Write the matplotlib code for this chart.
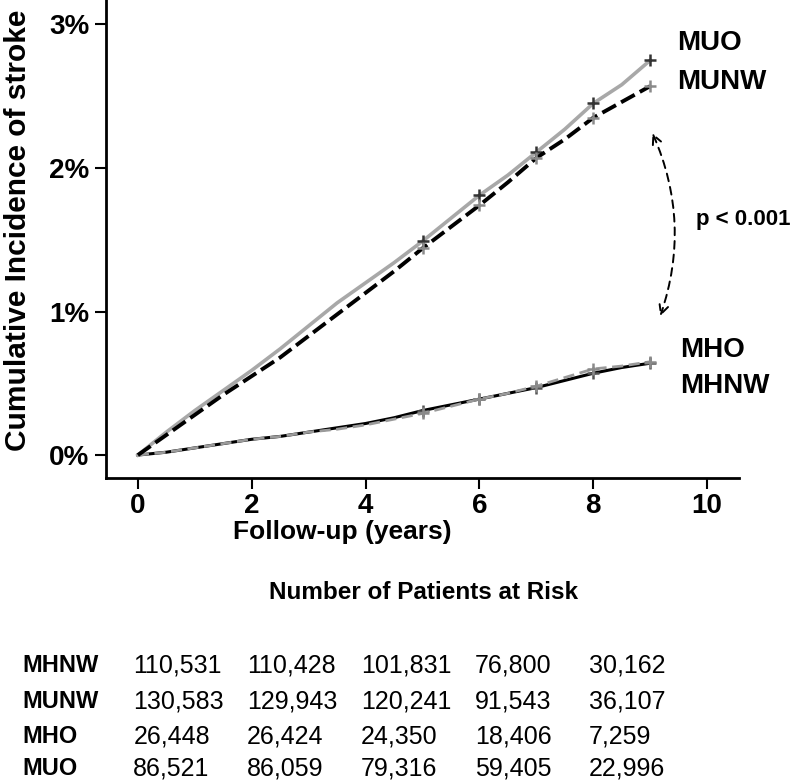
import numpy as np
import matplotlib.pyplot as plt
from matplotlib.ticker import FuncFormatter
import matplotlib.transforms as mtransforms

plt.rcParams['font.family'] = ['Liberation Sans', 'DejaVu Sans']

# follow-up time (years) and cumulative incidence (%)
years = [0, 0.5, 1, 1.5, 2, 2.5, 3, 3.5, 4, 4.5, 5, 5.5, 6, 6.5, 7, 7.5, 8, 8.5, 9]
muo = [0, 0.16, 0.31, 0.45, 0.59, 0.74, 0.90, 1.06, 1.20, 1.34, 1.49, 1.65, 1.81, 1.95, 2.11, 2.27, 2.45, 2.58, 2.75]
munw = [0, 0.14, 0.28, 0.42, 0.55, 0.68, 0.83, 0.98, 1.13, 1.28, 1.44, 1.59, 1.74, 1.90, 2.07, 2.20, 2.35, 2.46, 2.57]
mho = [0, 0.02, 0.05, 0.08, 0.11, 0.13, 0.16, 0.18, 0.21, 0.25, 0.29, 0.34, 0.39, 0.43, 0.48, 0.54, 0.60, 0.62, 0.65]
mhnw = [0, 0.02, 0.05, 0.08, 0.11, 0.13, 0.16, 0.19, 0.22, 0.26, 0.31, 0.35, 0.39, 0.43, 0.47, 0.52, 0.57, 0.61, 0.64]
censor_idx = [10, 12, 14, 16, 18]

# numbers at risk
risk_times = [0, 2, 4, 6, 8]
risk_groups = ['MHNW', 'MUNW', 'MHO', 'MUO']
risk_counts = {
    'MHNW': ['110,531', '110,428', '101,831', '76,800', '30,162'],
    'MUNW': ['130,583', '129,943', '120,241', '91,543', '36,107'],
    'MHO': ['26,448', '26,424', '24,350', '18,406', '7,259'],
    'MUO': ['86,521', '86,059', '79,316', '59,405', '22,996'],
}

fig = plt.figure(figsize=(8, 7.82), dpi=100)
ax = fig.add_axes([0.1325, 0.3887, 0.7913, 0.6113])

# MHNW: black solid, MHO: gray dashed
ax.plot(years, mhnw, color='black', lw=2.2, marker='+', markevery=censor_idx,
        ms=9, mew=1.8, mec='#555555')
ax.plot(years, mho, color='#9a9a9a', lw=2.0, ls=(0, (4, 2)), marker='+',
        markevery=censor_idx, ms=9, mew=1.8, mec='#8a8a8a')
# MUO: light gray solid, MUNW: black dashed
ax.plot(years, muo, color='#a8a8a8', lw=2.6, marker='+', markevery=censor_idx,
        ms=9, mew=1.8, mec='#333333')
ax.plot(years, munw, color='black', lw=2.8, ls=(0, (4, 1.5)), marker='+',
        markevery=censor_idx, ms=9, mew=1.8, mec='#8a8a8a')

ax.set_xlim(-0.56, 10.56)
ax.set_ylim(-0.16, 3.17)
ax.set_xticks([0, 2, 4, 6, 8, 10])
ax.set_yticks([0, 1, 2, 3])
ax.yaxis.set_major_formatter(FuncFormatter(lambda v, p: f'{v:.0f}%'))
for s in ['top', 'right']:
    ax.spines[s].set_visible(False)
for s in ['left', 'bottom']:
    ax.spines[s].set_linewidth(2)
ax.tick_params(length=8, width=1.5, labelsize=20, pad=4)
ax.tick_params(axis='x', pad=3)
for lab in ax.get_xticklabels() + ax.get_yticklabels():
    lab.set_fontweight('bold')

ax.set_xlabel('Follow-up (years)', fontsize=19, fontweight='bold')
ax.xaxis.set_label_coords(0.373, -0.088)
fig.text(18 / 800, 1 - 230 / 782, 'Cumulative Incidence of stroke', fontsize=21.5,
         fontweight='bold', rotation=90, ha='center', va='center')

# curve labels
lab_kw = dict(fontsize=20, fontweight='bold', va='center', ha='left', clip_on=False)
ax.text(9.47, 2.87, 'MUO', **lab_kw)
ax.text(9.47, 2.60, 'MUNW', **lab_kw)
ax.text(9.53, 0.73, 'MHO', **lab_kw)
ax.text(9.53, 0.48, 'MHNW', **lab_kw)

ax.annotate('', xy=(9.16, 0.95), xytext=(9.02, 2.26),
            arrowprops=dict(arrowstyle='<->', ls=(0, (4, 3)), lw=1.4, color='black',
                            connectionstyle='arc3,rad=-0.2', mutation_scale=16))
ax.text(9.81, 1.64, 'p < 0.001', fontsize=16, fontweight='bold', va='center',
        ha='left', clip_on=False)

# number at risk table
fig.text(0.53, 0.2417, 'Number of Patients at Risk', fontsize=17.5, fontweight='bold',
         ha='center', va='center')
trans = mtransforms.blended_transform_factory(ax.transData, fig.transFigure)
row_y = [0.149, 0.103, 0.058, 0.017]
for g, yy in zip(risk_groups, row_y):
    fig.text(0.0275, yy, g, fontsize=17, fontweight='bold', ha='left', va='center')
    for t, c in zip(risk_times, risk_counts[g]):
        ax.text(t - 0.08, yy, c, fontsize=18, ha='left', va='center',
                transform=trans, clip_on=False)

fig.savefig('out.png', dpi=100)
